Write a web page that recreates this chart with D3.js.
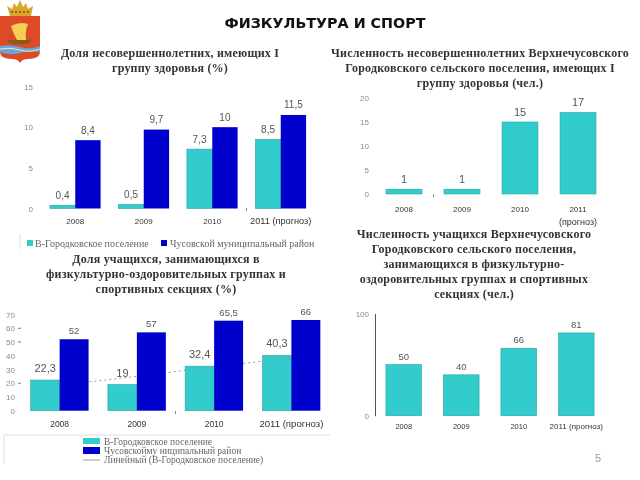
<!DOCTYPE html>
<html>
<head>
<meta charset="utf-8">
<script src="https://cdn.jsdelivr.net/npm/d3@7"></script>
<style>
  html, body { margin: 0; padding: 0; background: #fff; }
  svg { display: block; filter: blur(0.35px); }
  .head { font-family: "Liberation Serif", serif; font-weight: bold; font-size: 12px; fill: #333; text-anchor: middle; letter-spacing: .2px; }
  .tick { font-family: "Liberation Sans", sans-serif; font-size: 8px; fill: #888; }
  .cat { font-family: "Liberation Sans", sans-serif; fill: #333; text-anchor: middle; }
  .val { font-family: "Liberation Sans", sans-serif; fill: #555; text-anchor: middle; }
  .leg { font-family: "Liberation Serif", serif; fill: #666; }
</style>
</head>
<body>
<svg id="page" width="640" height="480" viewBox="0 0 640 480"></svg>
<script>
// values
const pageTitle = "ФИЗКУЛЬТУРА И СПОРТ";
const teal = "#33cccc", tealEdge = "#2aa3a3", blue = "#0000cc";

const seriesA = "В-Городковское поселение";
const seriesB = "Чусовской муниципальный район";
const seriesBalt = "Чусовскойму ниципальный район";
const trendName = "Линейный (В-Городковское поселение)";

const cats = ["2008", "2009", "2010", "2011 (прогноз)"];

const health1A = [0.4, 0.5, 7.3, 8.5];
const health1B = [8.4, 9.7, 10, 11.5];
const health1Ticks = [0, 5, 10, 15];

const healthCount = [1, 1, 15, 17];
const healthCountTicks = [0, 5, 10, 15, 20];

const sport1A = [22.3, 19, 32.4, 40.3];
const sport1B = [52, 57, 65.5, 66];
const sportTrend = [18.5, 25, 32, 38.5];
const sportTicks = [0, 10, 20, 30, 40, 50, 60, 70];
const sportDashes = [20, 50, 60];

const sportCount = [50, 40, 66, 81];
const sportCountTicks = [0, 100];

const svg = d3.select("#page");
const fmt = (v) => String(v).replace(".", ",");

svg.append("text").attr("x", 325).attr("y", 28).attr("text-anchor", "middle")
  .style("font-family", "DejaVu Sans").style("font-weight", "bold").style("font-size", "14.3px")
  .attr("fill", "#111").text(pageTitle);

function heading(lines, cx, y0, lh) {
  lines.forEach((t, i) => svg.append("text").attr("class", "head").attr("x", cx).attr("y", y0 + i * lh).text(t));
}

heading(["Доля несовершеннолетних, имеющих I", "группу здоровья (%)"], 170, 57, 15);
heading(["Численность несовершеннолетних Верхнечусовского", "Городковского  сельского поселения, имеющих I", "группу здоровья (чел.)"], 480, 57, 15);
heading(["Доля учащихся, занимающихся в", "физкультурно-оздоровительных группах и", "спортивных секциях (%)"], 166, 263, 15);
heading(["Численность учащихся Верхнечусовского", "Городковского сельского поселения,", "занимающихся в физкультурно-", "оздоровительных группах и спортивных", "секциях (чел.)"], 474, 238, 15);

// one panel: band scale for years, linear scale for values
function panel(o) {
  const x = d3.scaleBand().domain(cats).range(o.xr).paddingInner(o.pad).paddingOuter(o.pad / 2);
  const y = d3.scaleLinear().domain(o.dom).range(o.yr);
  const g = svg.append("g");

  const ax = g.append("g").attr("transform", `translate(${o.xr[0]},0)`)
    .call(d3.axisLeft(y).tickValues(o.ticks).tickSize(0).tickPadding(o.tickPad || 8));
  ax.select(".domain").attr("stroke", o.axisLine ? "#555" : "none");
  ax.selectAll("text").attr("class", "tick").attr("fill", null);

  const sets = o.series;
  const inner = d3.scaleBand().domain(d3.range(sets.length)).range([0, x.bandwidth()]);
  sets.forEach((s, k) => {
    g.selectAll(null).data(s.values).join("rect")
      .attr("x", (d, i) => x(cats[i]) + inner(k))
      .attr("y", (d) => y(d))
      .attr("width", inner.bandwidth())
      .attr("height", (d) => y(0) - y(d))
      .attr("fill", s.color)
      .attr("stroke", s.color === teal ? tealEdge : "none").attr("stroke-width", 0.6);
    g.selectAll(null).data(s.values).join("text")
      .attr("class", "val")
      .attr("x", (d, i) => x(cats[i]) + inner(k) + inner.bandwidth() / 2)
      .attr("y", (d) => y(d) - (s.gap || o.lblGap))
      .style("font-size", (s.size || o.lblSize) + "px")
      .text(fmt);
    if (k === 0 && o.trend) {
      const line = d3.line().x((d, i) => x(cats[i]) + x.bandwidth() / 2).y((d) => y(d));
      g.append("path").datum(o.trend).attr("d", line).attr("fill", "none")
        .attr("stroke", "#7fa3a3").attr("stroke-width", 1).attr("stroke-dasharray", "2 3");
    }
  });

  cats.forEach((c, n) => {
    const parts = o.wrap ? c.split(" ") : [c];
    const size = n === cats.length - 1 && !o.wrap ? o.lastSize : o.catSize;
    parts.forEach((p, i) => g.append("text").attr("class", "cat")
      .attr("x", x(c) + x.bandwidth() / 2).attr("y", o.catY + i * 13)
      .style("font-size", (i ? o.catSize + 1 : size) + "px").text(p));
  });
  return y;
}

panel({ xr: [41, 315], yr: [208.5, 86.5], dom: [0, 15], ticks: health1Ticks, pad: 0.26, catY: 224, catSize: 8, lastSize: 9.2, lblGap: 6.5, lblSize: 10,
  series: [{ values: health1A, color: teal }, { values: health1B, color: blue }] });
panel({ xr: [375, 607], yr: [194, 98], dom: [0, 20], ticks: healthCountTicks, pad: 0.38, catY: 212, catSize: 8, wrap: true, lblGap: 6, lblSize: 11, tickPad: 6,
  series: [{ values: healthCount, color: teal }] });
const ySport = panel({ xr: [21, 330], yr: [410.7, 314.5], dom: [0, 70], ticks: sportTicks, pad: 0.25, catY: 427, catSize: 8.5, lastSize: 9.6, lblGap: 8, lblSize: 11, tickPad: 6, trend: sportTrend,
  series: [{ values: sport1A, color: teal }, { values: sport1B, color: blue, gap: 5, size: 9.5 }] });
panel({ xr: [375, 605], yr: [415.7, 313.5], dom: [0, 100], ticks: sportCountTicks, pad: 0.38, catY: 429, catSize: 7.5, lastSize: 8, axisLine: true, lblGap: 5, lblSize: 9.5, tickPad: 6,
  series: [{ values: sportCount, color: teal }] });

// small dashes next to some labels of the third panel
svg.append("g").selectAll("line").data(sportDashes).join("line")
  .attr("x1", 18).attr("x2", 21).attr("y1", (d) => ySport(d)).attr("y2", (d) => ySport(d)).attr("stroke", "#777");

// legend of the first panel
svg.append("line").attr("x1", 20).attr("x2", 20).attr("y1", 234).attr("y2", 249).attr("stroke", "#ddd");
svg.append("rect").attr("x", 27).attr("y", 240).attr("width", 6).attr("height", 6).attr("fill", teal);
svg.append("text").attr("class", "leg").style("font-size", "10px").attr("x", 35).attr("y", 247).text(seriesA);
svg.append("rect").attr("x", 161).attr("y", 240).attr("width", 6).attr("height", 6).attr("fill", blue);
svg.append("text").attr("class", "leg").style("font-size", "10px").attr("x", 170).attr("y", 247).text(seriesB);

// legend of the third panel
svg.append("path").attr("d", "M4,464V435H330").attr("fill", "none").attr("stroke", "#ddd");
svg.append("rect").attr("x", 83).attr("y", 438).attr("width", 17).attr("height", 6).attr("fill", teal);
svg.append("text").attr("class", "leg").style("font-size", "9.5px").attr("x", 104).attr("y", 445).text(seriesA);
svg.append("rect").attr("x", 83).attr("y", 447).attr("width", 17).attr("height", 7).attr("fill", blue);
svg.append("text").attr("class", "leg").style("font-size", "9.5px").attr("x", 104).attr("y", 454).text(seriesBalt);
svg.append("line").attr("x1", 83).attr("x2", 100).attr("y1", 460).attr("y2", 460).attr("stroke", "#999");
svg.append("text").attr("class", "leg").style("font-size", "9.5px").attr("x", 104).attr("y", 463).text(trendName);

svg.append("text").attr("x", 598).attr("y", 462).attr("text-anchor", "middle")
  .style("font-family", "Liberation Sans").style("font-size", "11px").attr("fill", "#999").text("5");

// coat of arms
const crest = svg.append("g");
crest.append("path").attr("d", "M10,16 L7,6 L12,9 L14,3 L17,7 L20,0 L23,7 L26,3 L28,9 L33,6 L31,16 Z").attr("fill", "#d6a92c");
crest.append("path").attr("d", "M11,12 H30").attr("stroke", "#a33").attr("stroke-width", 1.5).attr("stroke-dasharray", "2 2");
crest.append("path").attr("d", "M0,16 H40 V52 Q40,59 28,59 Q22,59 20,63 Q18,59 12,59 Q0,59 0,52 Z").attr("fill", "#dc4a26");
crest.append("path").attr("d", "M11,26 Q20,21 28,24 Q25,31 26,40 H17 Q13,33 11,26 Z").attr("fill", "#f3cf52");
crest.append("path").attr("d", "M7,40 Q9,44 16,44 H28 L33,38 L29,40 Z").attr("fill", "#8a5a1a");
crest.append("path").attr("d", "M0,46 Q10,44 20,47 T40,46 V52 Q30,50 20,53 T0,52 Z").attr("fill", "#6aa5d8");
crest.append("path").attr("d", "M0,49 Q10,47 20,50 T40,49").attr("fill", "none").attr("stroke", "#f0e8c0").attr("stroke-width", 1);

// stray specks on the slide
svg.append("g").selectAll("rect").data([[246, 208], [433, 194], [175, 411]]).join("rect")
  .attr("x", (d) => d[0]).attr("y", (d) => d[1]).attr("width", 1).attr("height", 3).attr("fill", "#888");
</script>
</body>
</html>
